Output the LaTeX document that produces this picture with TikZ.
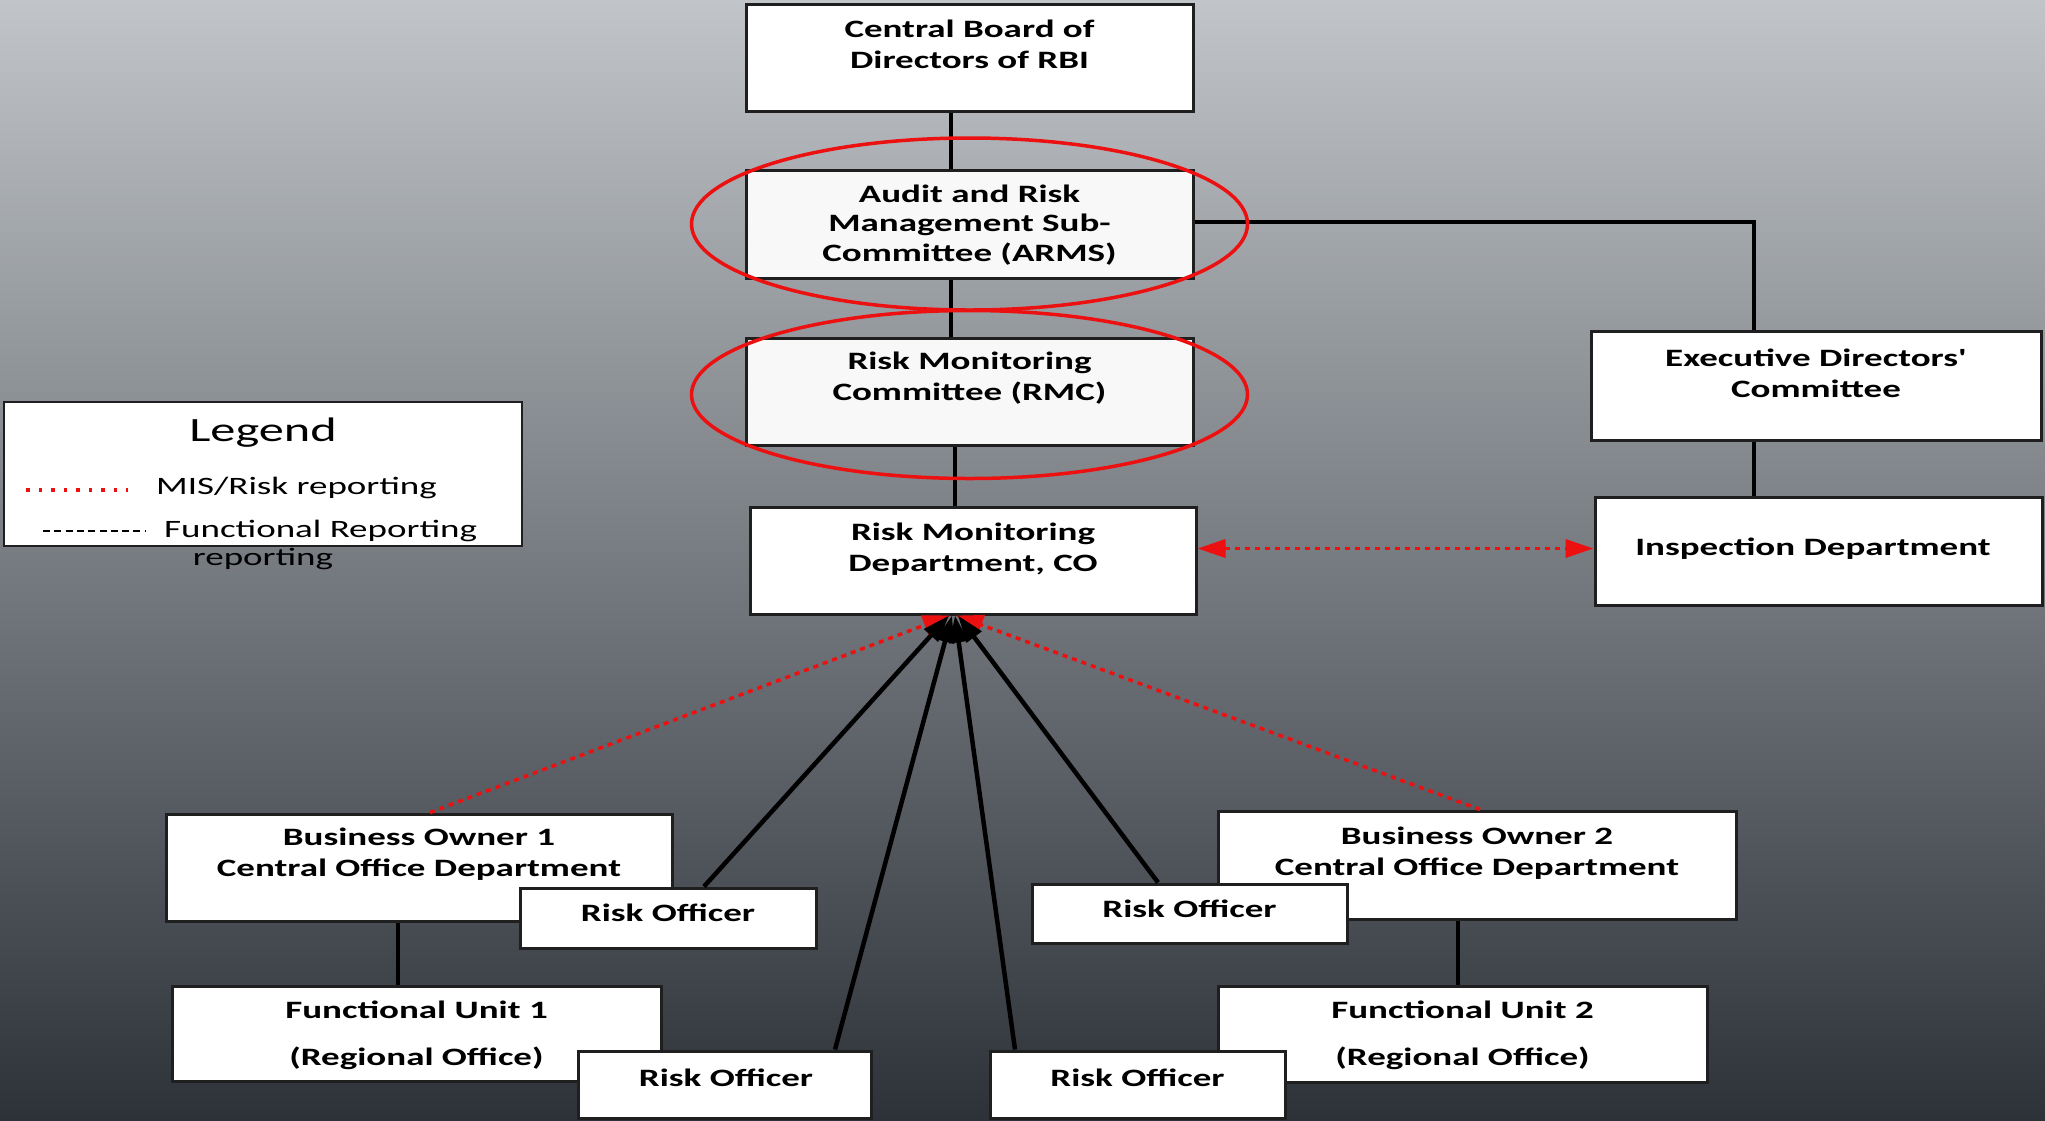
\documentclass[tikz,border=0pt]{standalone}
\usepackage{fontspec}
\newfontfamily\bfont{Carlito}[FakeStretch=1.48]
\usetikzlibrary{arrows.meta}
\definecolor{bgtop}{RGB}{193,197,201}
\definecolor{bgbot}{RGB}{45,50,57}
\definecolor{rred}{RGB}{236,16,16}
\definecolor{offw}{RGB}{248,248,248}
\begin{document}
\begin{tikzpicture}[x=1pt,y=-1pt,
  box/.style={draw=black!88, line width=3pt, fill=white, inner sep=0pt},
  txt/.style={font=\bfont\bfseries\fontsize{25}{31}\selectfont, align=center, inner sep=0pt, yshift=-3pt},
  ltxt/.style={font=\bfont\fontsize{25}{31}\selectfont, inner sep=0pt, yshift=-2.5pt},
  link/.style={line width=4.5pt, black},
  arr/.style={line width=4.5pt, black, -{Triangle[length=27pt,width=18pt]}},
  rdot/.style={rred, line width=3.5pt, dash pattern=on 5pt off 5pt},
  rtip/.style={-{Triangle[length=27pt,width=20pt]}},
  ring/.style={rred, line width=3.5pt}]
\useasboundingbox (0,0) rectangle (2045,1120);
\shade[top color=bgtop, bottom color=bgbot] (0,0) rectangle (2045,1120);

% boxes
\node[box, minimum width=447pt, minimum height=107pt] (cb) at (969.5,57.5) {};
\node[box, fill=offw, minimum width=447pt, minimum height=108pt] (arms) at (969.5,224) {};
\node[box, fill=offw, minimum width=447pt, minimum height=107pt] (rmc) at (969.5,391.5) {};
\node[box, minimum width=446pt, minimum height=107pt] (rmd) at (973,560.5) {};
\node[box, minimum width=450pt, minimum height=109pt] (edc) at (1816,385.5) {};
\node[box, minimum width=447pt, minimum height=108pt] (id) at (1818.5,551) {};
\node[box, minimum width=506pt, minimum height=107pt] (bo1) at (419,867.5) {};
\node[box, minimum width=489pt, minimum height=95pt] (fu1) at (416.5,1033.5) {};
\node[box, minimum width=518pt, minimum height=108pt] (bo2) at (1477,865) {};
\node[box, minimum width=489pt, minimum height=96pt] (fu2) at (1462.5,1034) {};
\node[box, minimum width=296pt, minimum height=60pt] (ro1) at (668,918) {};
\node[box, minimum width=293pt, minimum height=67pt] (ro2) at (724.5,1084.5) {};
\node[box, minimum width=295pt, minimum height=67pt] (ro3) at (1137.5,1084.5) {};
\node[box, minimum width=315pt, minimum height=59pt] (ro4) at (1189.5,913.5) {};

% texts
\node[txt] (cbT) at (969.5,41.5) {Central Board of\\Directors of RBI};
\node[txt, font=\bfont\bfseries\fontsize{25}{29.5}\selectfont] (armsT) at (969.5,222) {Audit and Risk\\Management Sub-\\Committee (ARMS)};
\node[txt] (rmcT) at (969.5,375.5) {Risk Monitoring\\Committee (RMC)};
\node[txt] (rmdT) at (973,546) {Risk Monitoring\\Department, CO};
\node[txt] (edcT) at (1816,370.5) {Executive Directors'\\Committee};
\node[txt] (idT) at (1813,546) {Inspection Department};
\node[txt] (bo1T) at (419,851.5) {Business Owner 1\\Central Office Department};
\node[txt] (bo2T) at (1477,850.5) {Business Owner 2\\Central Office Department};
\node[txt] (fu1T) at (416.5,1032.5) {Functional Unit 1\\[16pt](Regional Office)};
\node[txt] (fu2T) at (1462.5,1032) {Functional Unit 2\\[16pt](Regional Office)};
\node[txt] (ro1T) at (668,910) {Risk Officer};
\node[txt] (ro2T) at (726,1075) {Risk Officer};
\node[txt] (ro3T) at (1137.5,1075) {Risk Officer};
\node[txt] (ro4T) at (1189.5,906) {Risk Officer};

% tree links
\coordinate (sp1) at (951,0);
\coordinate (sp2) at (955,0);
\coordinate (xr) at (1754,0);
\coordinate (x1) at (398,0);
\coordinate (x2) at (1458,0);
\draw[link] (cb.south -| sp1) -- (arms.north -| sp1);
\draw[link] (arms.south -| sp1) -- (rmc.north -| sp1);
\draw[link] (rmc.south -| sp2) -- (rmd.north -| sp2);
\draw[line width=3.5pt] ([yshift=2pt]arms.east) -| (edc.north -| xr);
\draw[link] (edc.south -| xr) -- (id.north -| xr);
\draw[link] (bo1.south -| x1) -- (fu1.north -| x1);
\draw[link] (bo2.south -| x2) -- (fu2.north -| x2);

% reporting lines
\coordinate (dl) at ([yshift=12pt]rmd.east);
\draw[rdot, {Triangle[length=28pt,width=18pt]}-{Triangle[length=28pt,width=18pt]}] (dl) -- (dl -| id.west);
\coordinate (hub) at ([xshift=-20pt]rmd.south);
\draw[rdot, rtip] ([xshift=11pt]bo1.north) -- ([xshift=-3pt]hub);
\draw[rdot, rtip] ([xshift=3pt]bo2.north) -- ([xshift=3pt]hub);
\draw[arr] ([xshift=36pt]ro1.north) -- ([xshift=-4pt]hub);
\draw[arr] ([xshift=110.5pt]ro2.north) -- ([xshift=-1pt]hub);
\draw[arr] ([xshift=-122.5pt]ro3.north) -- ([xshift=2pt]hub);
\draw[arr] ([xshift=-31.5pt]ro4.north) -- ([xshift=5pt]hub);

% highlight rings
\draw[ring] (arms.center) ellipse [x radius=278pt, y radius=86pt];
\draw[ring] ([yshift=-3pt]rmc.center) ellipse [x radius=278pt, y radius=84pt];

% legend
\node[box, line width=2.5pt, minimum width=518pt, minimum height=144pt] (leg) at (263,474) {};
\node[font=\bfont\fontsize{34}{40}\selectfont, inner sep=0pt, yshift=-3pt] (legT) at (263,430) {Legend};
\coordinate (d1a) at (26,490);
\coordinate (d1b) at (128,490);
\draw[rred, line width=3.5pt, dash pattern=on 3.5pt off 9pt] (d1a) -- (d1b);
\node[ltxt, anchor=west] (misT) at (156,485) {MIS/Risk reporting};
\coordinate (d2a) at (43,531);
\coordinate (d2b) at (145,531);
\draw[line width=1.5pt, dash pattern=on 7pt off 4.3pt] (d2a) -- (d2b);
\node[ltxt, anchor=west] (frT) at (164,528) {Functional Reporting};
\node[ltxt] (repT) at (263,556) {reporting};
\end{tikzpicture}
\end{document}
